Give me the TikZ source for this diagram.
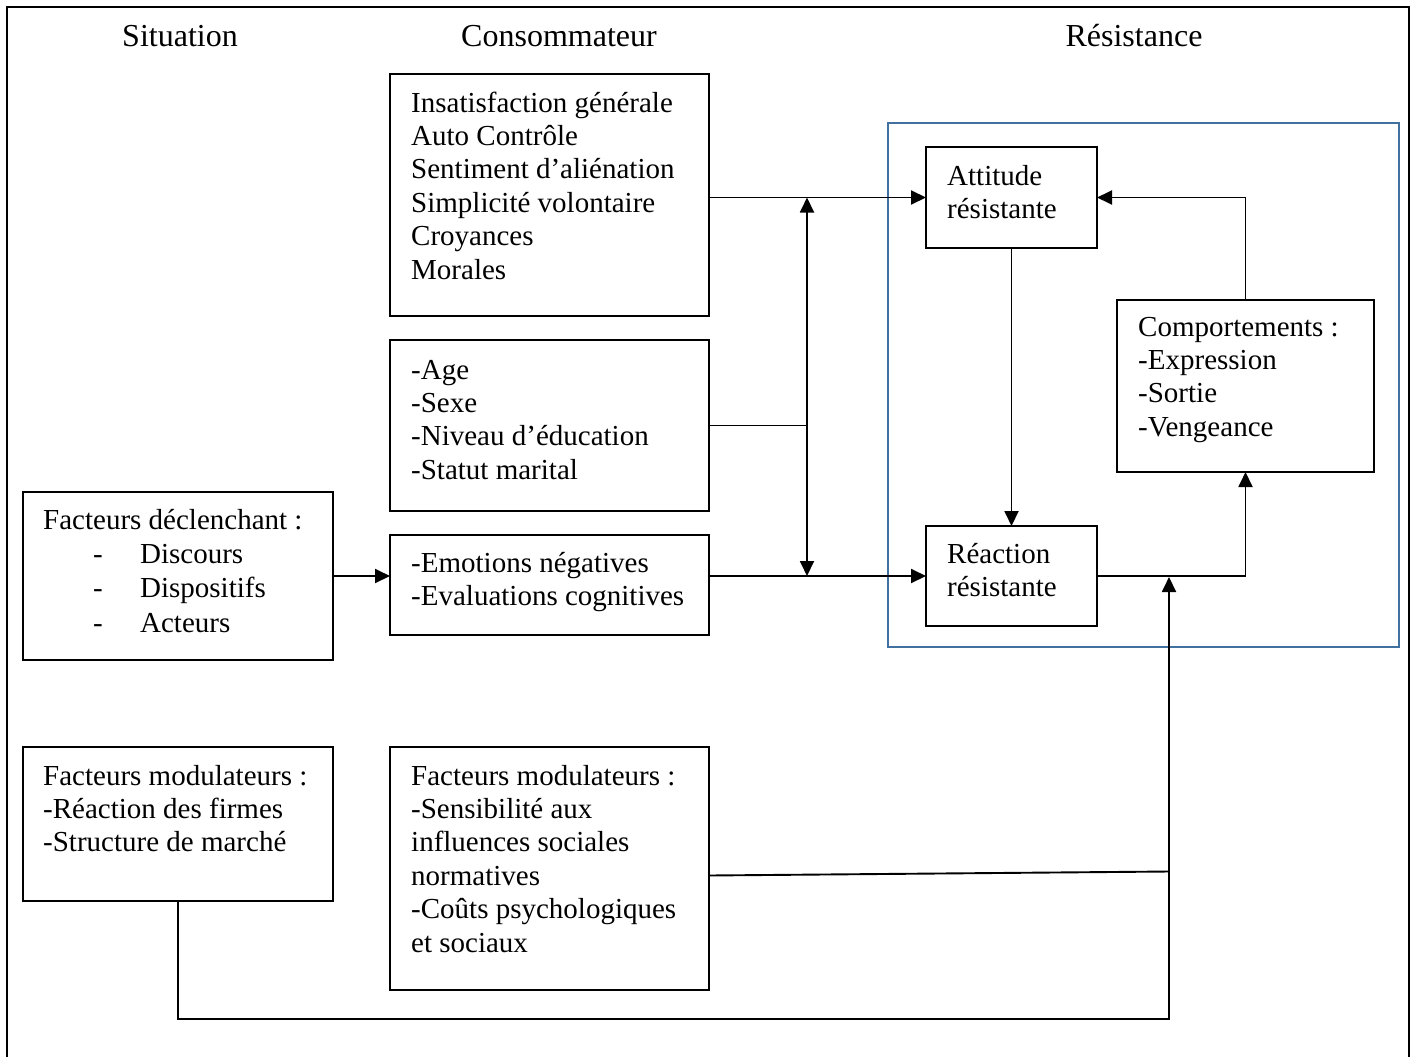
\documentclass[tikz,border=0pt]{standalone}
\usepackage{fontspec}
\setmainfont{Liberation Serif}
\usetikzlibrary{arrows.meta}
\definecolor{frameblue}{RGB}{65,113,160}
\begin{document}
\begin{tikzpicture}[x=1pt,y=-1pt,
  font=\fontsize{29}{33.4}\selectfont,
  box/.style={draw, line width=2pt, inner sep=0pt, outer sep=0pt, anchor=north west},
  txt/.style={inner sep=0pt, anchor=base west, align=left},
  head/.style={inner sep=0pt, anchor=base, font=\fontsize{32}{36}\selectfont},
  conn/.style={line width=1.9pt},
  tip/.tip={Triangle[length=15pt,width=14pt]},
  arr/.style={conn, -tip}]
\useasboundingbox (0,0) rectangle (1415,1057);
% outer frame (open at the bottom)
\draw[line width=2pt] (7,1057) -- (7,7) -- (1409,7) -- (1409,1057);
% headers
\node[head] (hs) at (180,47) {Situation};
\node[head] (hc) at (559,47) {Consommateur};
\node[head] (hr) at (1134,47) {Résistance};
% resistance frame
\node[draw=frameblue, line width=1.6pt, inner sep=0pt, anchor=north west,
      minimum width=511pt, minimum height=524pt] (res) at (887,122) {};
% boxes
\node[box, minimum width=319pt, minimum height=242pt] (b1) at (390,74) {};
\node[box, minimum width=319pt, minimum height=171pt] (b2) at (390,340) {};
\node[box, minimum width=319pt, minimum height=100pt] (b3) at (390,535) {};
\node[box, minimum width=310pt, minimum height=168pt] (fd) at (23,492) {};
\node[box, minimum width=171pt, minimum height=101pt] (att) at (926,147) {};
\node[box, minimum width=171pt, minimum height=100pt] (rea) at (926,526) {};
\node[box, minimum width=257pt, minimum height=172pt] (comp) at (1117,300) {};
\node[box, minimum width=310pt, minimum height=154pt] (fm1) at (23,747) {};
\node[box, minimum width=319pt, minimum height=243pt] (fm2) at (390,747) {};
% texts
\node[txt] (t1) at (411,112) {\begin{tabular}[t]{@{}l@{}}Insatisfaction générale\\Auto Contrôle\\Sentiment d’aliénation\\Simplicité volontaire\\Croyances\\Morales\end{tabular}};
\node[txt] (t2) at (411,379) {\begin{tabular}[t]{@{}l@{}}-Age\\-Sexe\\-Niveau d’éducation\\-Statut marital\end{tabular}};
\node[txt] (t3) at (411,572) {\begin{tabular}[t]{@{}l@{}}-Emotions négatives\\-Evaluations cognitives\end{tabular}};
\node[txt] (tfd) at (43,529) {\renewcommand\arraystretch{1.03}\begin{tabular}[t]{@{}l@{}}Facteurs déclenchant :\\\makebox[97pt][l]{\hspace*{50pt}-}Discours\\\makebox[97pt][l]{\hspace*{50pt}-}Dispositifs\\\makebox[97pt][l]{\hspace*{50pt}-}Acteurs\end{tabular}};
\node[txt] (tatt) at (947,185) {\begin{tabular}[t]{@{}l@{}}Attitude\\résistante\end{tabular}};
\node[txt] (trea) at (947,563) {\begin{tabular}[t]{@{}l@{}}Réaction\\résistante\end{tabular}};
\node[txt] (tcomp) at (1138,336) {\begin{tabular}[t]{@{}l@{}}Comportements :\\-Expression\\-Sortie\\-Vengeance\end{tabular}};
\node[txt] (tfm1) at (43,785) {\begin{tabular}[t]{@{}l@{}}Facteurs modulateurs :\\-Réaction des firmes\\-Structure de marché\end{tabular}};
\node[txt] (tfm2) at (411,785) {\begin{tabular}[t]{@{}l@{}}Facteurs modulateurs :\\-Sensibilité aux\\influences sociales\\normatives\\-Coûts psychologiques\\et sociaux\end{tabular}};
% junction points
\coordinate (dtop) at (807,197.5);
\coordinate (dbot) at (807,576);
\coordinate (jx) at (1169,577);
\coordinate (bot) at (1169,1019);
% connectors
\draw[arr] (b1.east |- att.west) -- (att.west);
\draw[arr] (b3.east |- rea.west) -- (rea.west);
\draw[arr] (fd.east) -- (b3.west |- fd.east);
\draw[conn, tip-tip] (dtop) -- (dbot);
\draw[conn] (b2.east) -- (b2.east -| dtop);
\draw[arr] (att.south) -- (rea.north);
\draw[arr] (rea.east) -| (comp.south);
\draw[arr] (comp.north) |- (att.east);
\draw[conn] ([yshift=-7pt]fm2.east) -- ([yshift=-3pt]fm2.east -| jx);
\draw[arr] (fm1.south) |- (bot) -- (jx);
\end{tikzpicture}
\end{document}
